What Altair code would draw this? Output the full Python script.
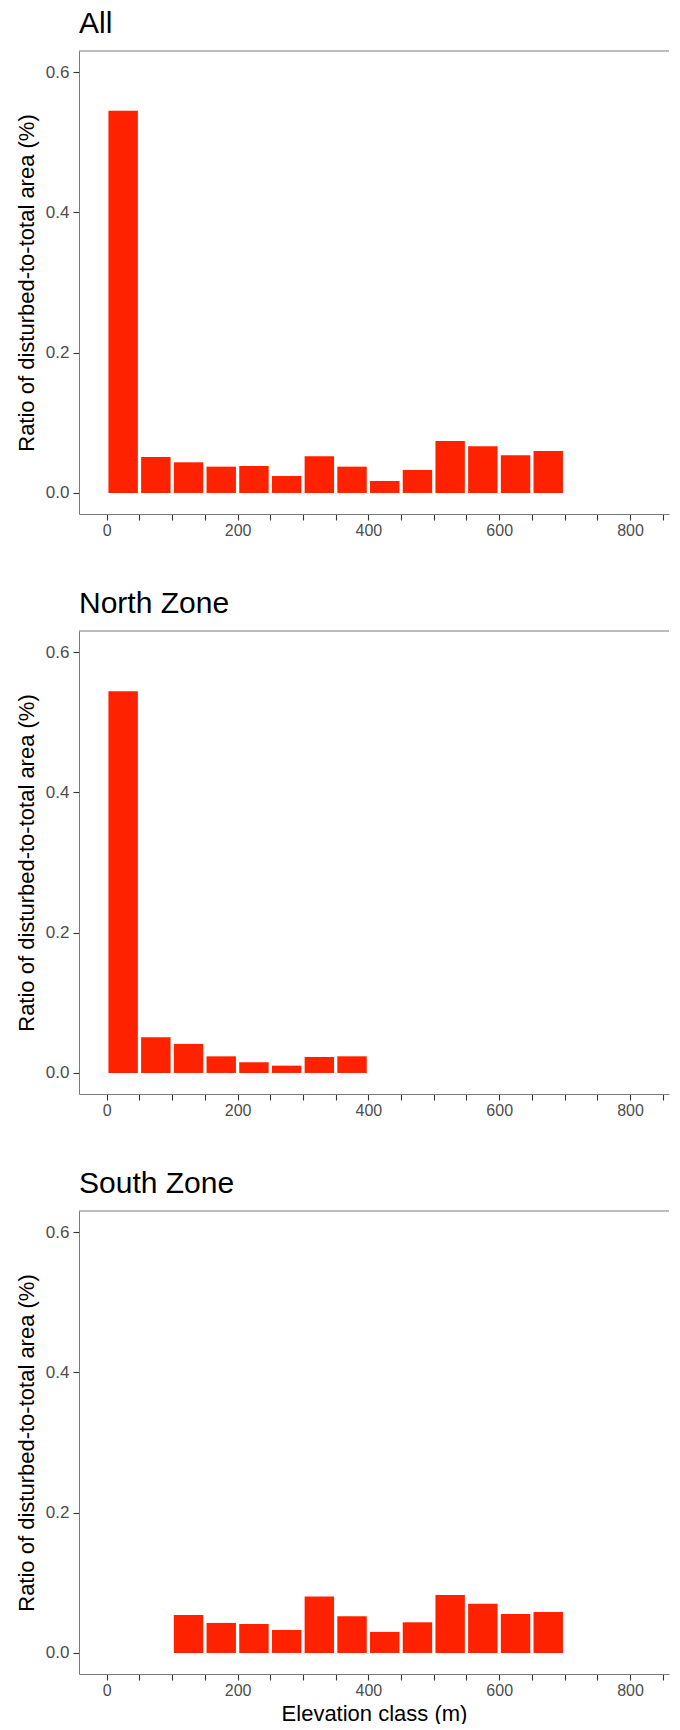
import altair as alt
import pandas as pd

# ---- data ----
all_start = [0, 50, 100, 150, 200, 250, 300, 350, 400, 450, 500, 550, 600, 650]
all_vals = [0.545, 0.0514, 0.0437, 0.0375, 0.0385, 0.0242, 0.0522, 0.0375,
            0.0171, 0.0328, 0.0742, 0.0665, 0.0537, 0.0599]

north_start = [0, 50, 100, 150, 200, 250, 300, 350]
north_vals = [0.544, 0.0508, 0.0414, 0.0237, 0.0151, 0.0104, 0.0228, 0.0237]

south_start = [100, 150, 200, 250, 300, 350, 400, 450, 500, 550, 600, 650]
south_vals = [0.0542, 0.0428, 0.0414, 0.0328, 0.0803, 0.0522, 0.0300, 0.0437,
              0.0827, 0.0703, 0.0556, 0.0585]

panel_titles = ["All", "North Zone", "South Zone"]
x_ticks = [0, 50, 100, 150, 200, 250, 300, 350, 400, 450, 500, 550, 600, 650,
           700, 750, 800, 850]
x_label_values = [0, 200, 400, 600, 800]
y_ticks = [0.0, 0.2, 0.4, 0.6]
y_title = "Ratio of disturbed-to-total area (%)"
x_title = "Elevation class (m)"

RED = "#ff2200"
BORDER = "#7a7a7a"
FONT = "Liberation Sans"
W, H = 590, 463
PX_PER_M = 0.654

label_expr = "indexof([" + ",".join(str(v) for v in x_label_values) + "], datum.value) >= 0 ? datum.label : ''"


def panel(starts, vals, title, show_xtitle):
    df = pd.DataFrame({"start": starts, "value": vals})
    bars = alt.Chart(df).transform_calculate(
        x0="datum.start + 2.5", x1="datum.start + 47.5"
    ).mark_rect(color=RED).encode(
        x=alt.X("x0:Q",
                scale=alt.Scale(domain=[-42.5, -42.5 + W / PX_PER_M], nice=False, zero=False),
                axis=alt.Axis(values=x_ticks, labelExpr=label_expr,
                              labelFontSize=16, labelPadding=2,
                              title=x_title if show_xtitle else None)),
        x2="x1:Q",
        y=alt.Y("value:Q",
                scale=alt.Scale(domain=[-0.03, 0.63], nice=False, zero=False),
                axis=alt.Axis(values=y_ticks, format=".1f", title=y_title,
                              labelFontSize=17, labelPadding=4)),
        y2=alt.datum(0),
    )
    one = pd.DataFrame({"t": [title]})
    top = alt.Chart(one).mark_rule(
        color=BORDER, strokeWidth=1
    ).encode(x=alt.value(0), x2=alt.value(W), y=alt.value(0))
    ttl = alt.Chart(one).mark_text(
        align="left", baseline="alphabetic", fontSize=30, font=FONT,
        color="black"
    ).encode(x=alt.value(0), y=alt.value(-18), text="t:N")
    return alt.layer(bars, top, ttl).properties(width=W, height=H)


chart = alt.vconcat(
    panel(all_start, all_vals, panel_titles[0], False),
    panel(north_start, north_vals, panel_titles[1], False),
    panel(south_start, south_vals, panel_titles[2], True),
    spacing=117, bounds="flush",
).properties(
    padding={"left": 7, "top": 1, "right": 0, "bottom": 0}
).configure_view(stroke=None).configure_axis(
    grid=False,
    domainColor=BORDER, domainWidth=1,
    tickColor="#333333", tickSize=6, tickWidth=1.1,
    labelColor="#4d4d4d", labelFont=FONT,
    titleFont=FONT, titleFontSize=22, titleFontWeight="normal", titleColor="black",
).configure_axisY(titlePadding=7).configure_axisX(titlePadding=5)

chart.save("out.html", embed_options={"renderer": "svg", "actions": False})
